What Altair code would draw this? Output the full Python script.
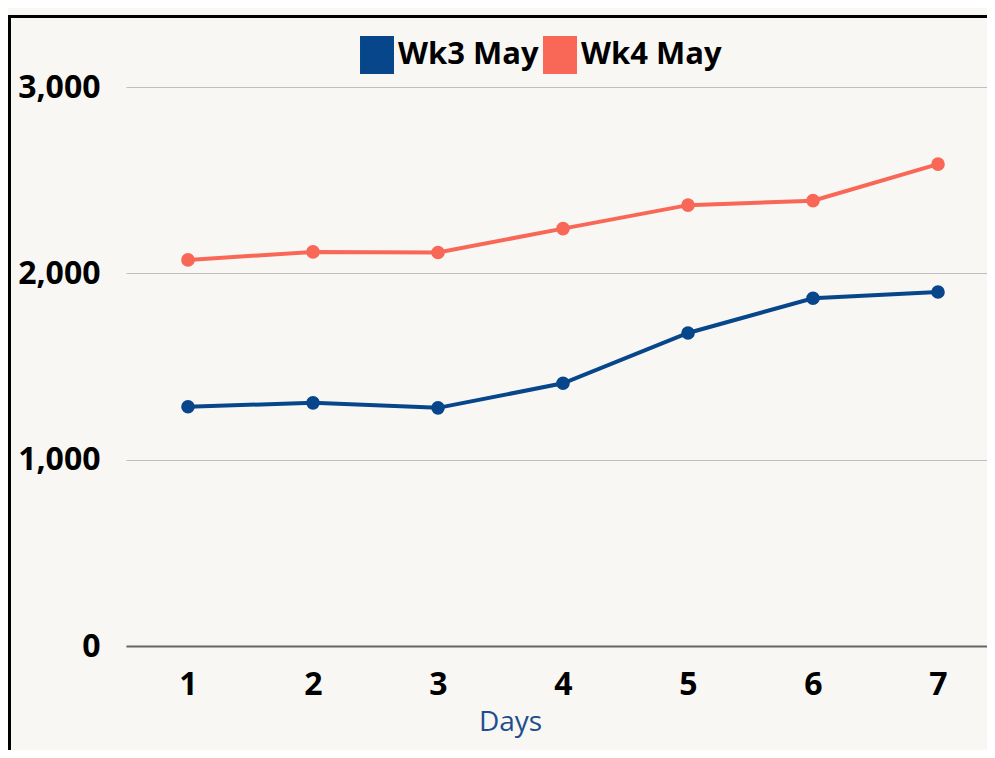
import altair as alt
import pandas as pd

days = [1, 2, 3, 4, 5, 6, 7]
wk3 = [1284, 1305, 1278, 1410, 1680, 1866, 1900]
wk4 = [2072, 2115, 2112, 2240, 2366, 2390, 2586]
series = ["Wk3 May", "Wk4 May"]
colors = ["#07468A", "#F96757"]
y_ticks = [0, 1000, 2000, 3000]

df = pd.DataFrame({
    "Day": days * 2,
    "Value": wk3 + wk4,
    "Series": [series[0]] * len(days) + [series[1]] * len(days),
})

W, H = 861, 559
FONT = "Open Sans"
SYMBOL = "M-0.894,-1H0.894V1H-0.894Z"

x = alt.X(
    "Day:O",
    scale=alt.Scale(type="point", padding=0.4439, align=0.5586),
    axis=alt.Axis(
        title="Days", labelAngle=0, grid=False, ticks=False,
        domain=True, domainColor="#666666", domainWidth=2,
        labelFont=FONT, labelFontSize=32, labelFontWeight="bold", labelColor="black",
        labelPadding=23,
        titleFont=FONT, titleFontSize=28, titleFontWeight="normal", titleColor="#1F4E8D",
        titleX=384, titleY=84, titleBaseline="alphabetic", titleAlign="center",
    ),
)
y = alt.Y(
    "Value:Q",
    scale=alt.Scale(domain=[0, 3000], nice=False),
    axis=alt.Axis(
        title=None, values=y_ticks, format=",.0f", domain=False, ticks=False,
        grid=True, gridColor="#BFBFBF", gridWidth=1,
        labelFont=FONT, labelFontSize=32, labelFontWeight="bold", labelColor="black",
        labelPadding=26,
    ),
)
color_scale = alt.Scale(domain=series, range=colors)
color_legend = alt.Color(
    "Series:N",
    scale=color_scale,
    legend=alt.Legend(
        title=None, orient="none", legendX=232, legendY=-51, direction="horizontal",
        symbolType=SYMBOL, symbolSize=1444,
        symbolStrokeWidth=0, symbolOpacity=1,
        labelFont=FONT, labelFontSize=31, labelFontWeight="bold", labelColor="black",
        labelOffset=2, columnPadding=2, padding=0,
    ),
)
color_plain = alt.Color("Series:N", scale=color_scale, legend=None)

base = alt.Chart(df)
legend_src = base.mark_square(size=1444, opacity=1, filled=True).encode(
    x=x, y=y, color=color_legend
).transform_filter(alt.datum.Value < 0)
lines = base.mark_line(strokeWidth=4).encode(x=x, y=y, color=color_plain)
points = base.mark_circle(size=185, opacity=1).encode(x=x, y=y, color=color_plain)

border = alt.Chart(pd.DataFrame({"b": [0]})).mark_rect(
    fill="transparent", stroke="black", strokeWidth=3
).encode(
    x=alt.value(-116.5), x2=alt.value(W + 60),
    y=alt.value(-70.5), y2=alt.value(H + 200),
)

chart = alt.layer(border, legend_src, lines, points).properties(
    width=W, height=H,
    autosize=alt.AutoSizeParams(type="none"),
    padding={"left": 118, "top": 79, "right": 0, "bottom": 104},
    background="#F8F7F3",
).configure_view(strokeWidth=0)

chart.save("out.html", embed_options={"renderer": "svg", "actions": False})
